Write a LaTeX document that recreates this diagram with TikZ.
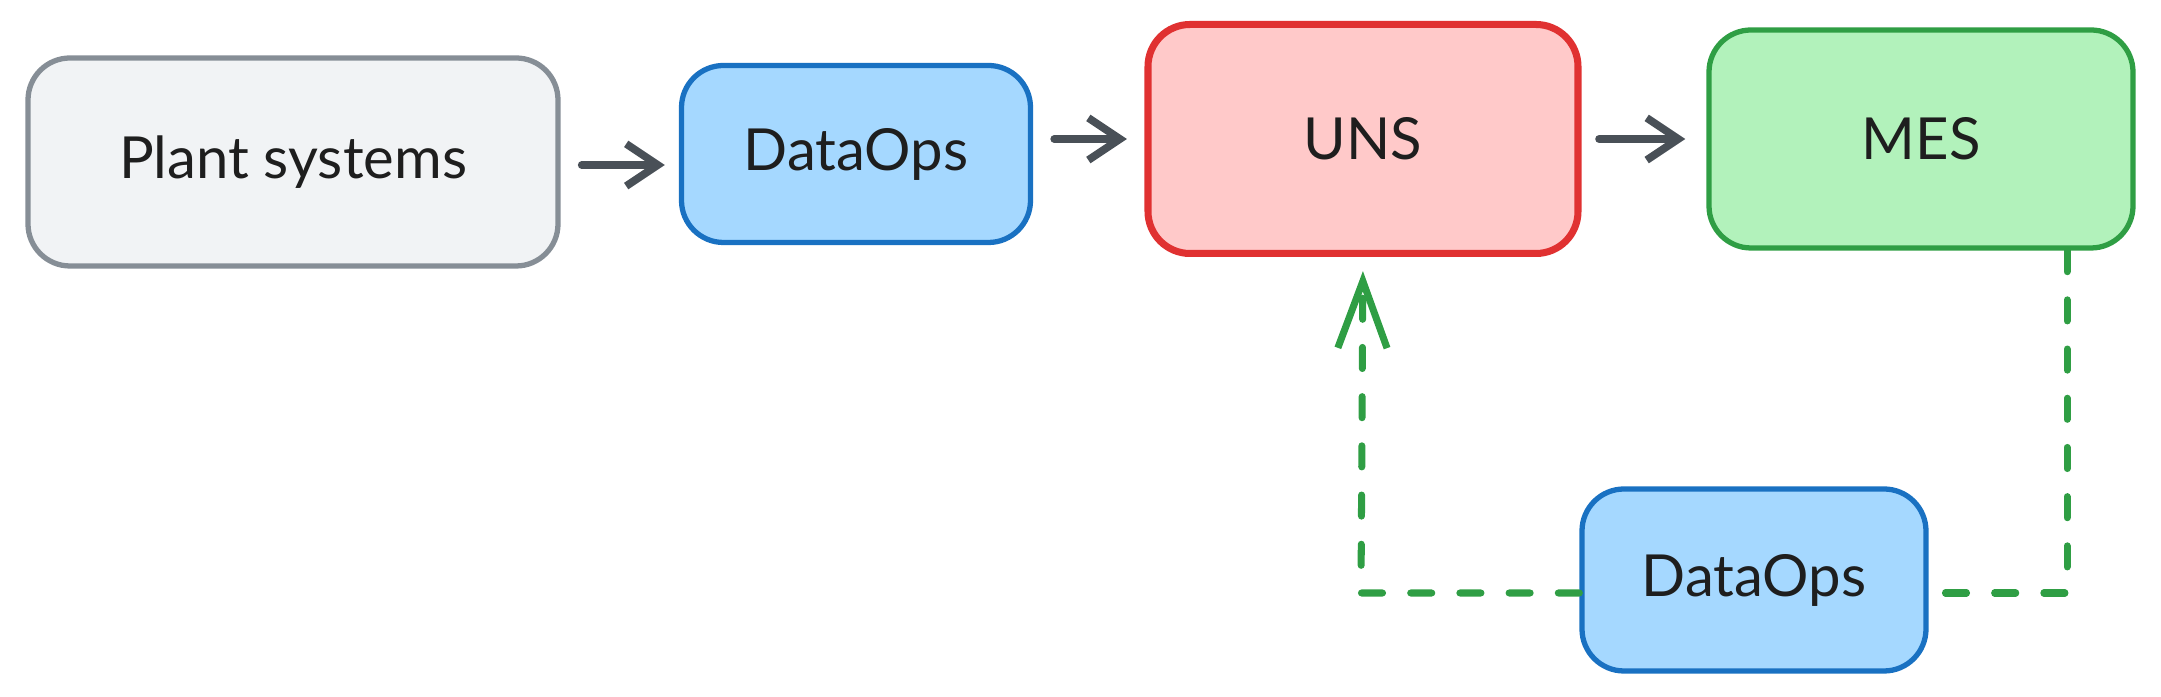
\documentclass[tikz,border=0pt]{standalone}
\usepackage{fontspec}
\setmainfont{Lato}
\usetikzlibrary{arrows.meta}

\definecolor{texto}{HTML}{1E1E1E}
\definecolor{grisborde}{HTML}{868E96}
\definecolor{grisfondo}{HTML}{F1F3F5}
\definecolor{azulborde}{HTML}{1971C2}
\definecolor{azulfondo}{HTML}{A5D8FF}
\definecolor{rojoborde}{HTML}{E03131}
\definecolor{rojofondo}{HTML}{FFC9C9}
\definecolor{verdeborde}{HTML}{2F9E44}
\definecolor{verdefondo}{HTML}{B2F2BB}
\definecolor{flechagris}{HTML}{495057}

\tikzset{
    caja/.style={draw, rounded corners=0.42cm, line width=1.5pt, text=texto,
        font=\fontsize{16.5}{20}\selectfont, inner sep=0pt},
    flecha/.style={draw=flechagris, line width=2.2pt, line cap=round,
        -{Straight Barb[length=9pt,width=12pt]}},
    retorno/.style={draw=verdeborde, line width=2pt, line cap=round,
        dash pattern=on 6pt off 8pt}
}

\begin{document}
\begin{tikzpicture}
    % Fijar el marco del dibujo
    \useasboundingbox (0,0) rectangle (21.61,-6.97);

    % Dibujar las cajas de la fila superior
    \node[caja, draw=grisborde, fill=grisfondo, minimum width=5.30cm, minimum height=2.08cm]
        (planta) at (2.93,-1.62) {Plant systems};
    \node[caja, draw=azulborde, fill=azulfondo, minimum width=3.49cm, minimum height=1.77cm]
        (ops) at (8.56,-1.54) {DataOps};
    \node[caja, draw=rojoborde, fill=rojofondo, line width=2pt, minimum width=4.30cm, minimum height=2.29cm]
        (uns) at (13.63,-1.39) {UNS};
    \node[caja, draw=verdeborde, fill=verdefondo, minimum width=4.24cm, minimum height=2.18cm]
        (mes) at (19.21,-1.39) {MES};

    % Dibujar la caja de abajo
    \node[caja, draw=azulborde, fill=azulfondo, minimum width=3.44cm, minimum height=1.82cm]
        (opsb) at (17.54,-5.80) {DataOps};

    % Esquinas del camino de retorno
    \coordinate (esqder) at (20.67,-5.93);
    \coordinate (esqizq) at (13.61,-5.93);

    % Flechas entre las cajas
    \draw[flecha, shorten <=6pt, shorten >=4pt] (planta.east |- 0,-1.65) -- (ops.west |- 0,-1.65);
    \draw[flecha, shorten <=6pt, shorten >=5pt] (ops.east |- uns.west) -- (uns.west);
    \draw[flecha, shorten <=5pt, shorten >=6pt] (uns.east) -- (mes.west);

    % Camino de retorno a trazos
    \draw[retorno] (mes.south -| esqder) -- (esqder) -- (opsb.east |- esqder);
    \draw[retorno, -{Straight Barb[length=19pt,width=14pt]}, shorten >=4pt]
        (opsb.west |- esqizq) -- (esqizq) -- (uns.south);
\end{tikzpicture}
\end{document}
